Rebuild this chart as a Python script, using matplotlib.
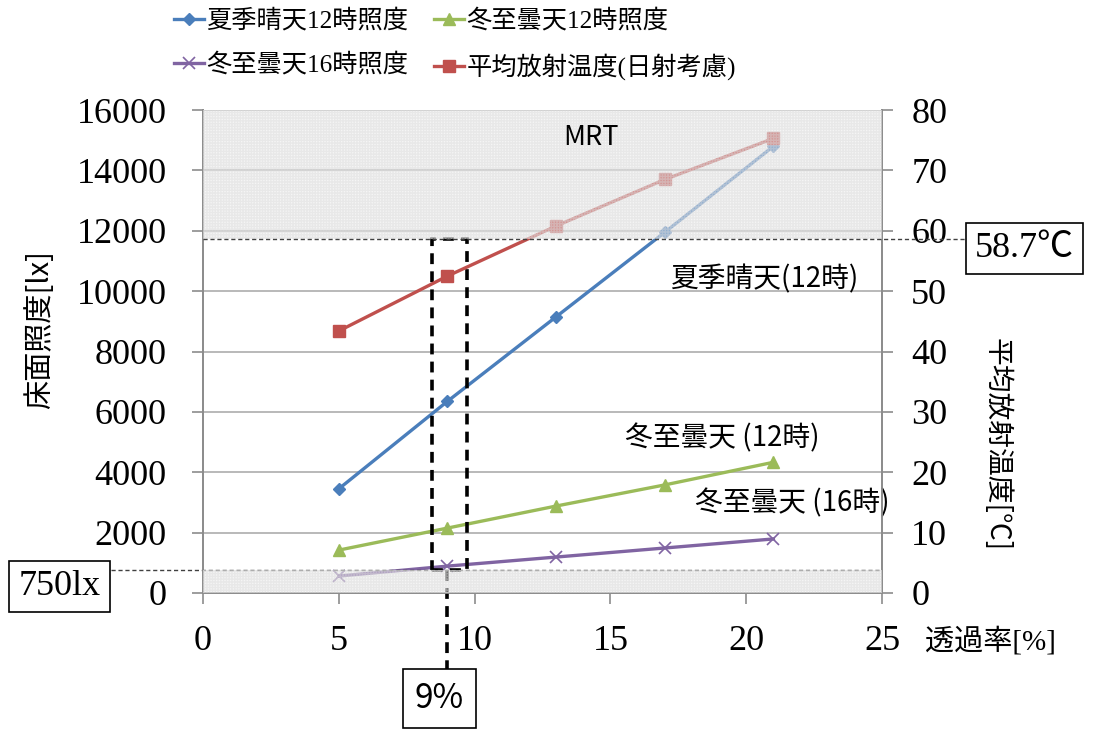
import matplotlib
matplotlib.use("Agg")
import matplotlib.pyplot as plt
from matplotlib.patches import Rectangle
from matplotlib.lines import Line2D

# Transmittance [%] and results
transmittance = [5, 9, 13, 17, 21]
summer_clear_12 = [3450, 6350, 9150, 11950, 14800]   # lx
winter_cloudy_12 = [1420, 2150, 2880, 3580, 4330]    # lx
winter_cloudy_16 = [560, 890, 1190, 1490, 1790]      # lx
mrt_sun = [43.4, 52.5, 60.8, 68.5, 75.3]             # degC

series_names = ["夏季晴天12時照度", "冬至曇天12時照度", "冬至曇天16時照度", "平均放射温度(日射考慮)"]
lux_limit = 750          # required illuminance [lx]
mrt_limit = 58.7         # MRT upper limit [degC]
chosen_rate = 9          # selected transmittance [%]

x_ticks = [0, 5, 10, 15, 20, 25]
lx_ticks = list(range(0, 16001, 2000))
t_ticks = list(range(0, 81, 10))

SERIF = ["Liberation Serif", "Noto Sans CJK JP"]
SANS = ["Noto Sans CJK JP", "DejaVu Sans"]
plt.rcParams["font.family"] = SERIF

C_BLUE = "#4A7EBB"
C_GREEN = "#9BBB59"
C_PURPLE = "#8064A2"
C_RED = "#C0504D"

fig = plt.figure(figsize=(10.93, 7.29), dpi=100)
ax = fig.add_axes([0.1857, 0.1866, 0.807 - 0.1857, 0.849 - 0.1866])
ax2 = ax.twinx()

ax.set_xlim(0, 25)
ax.set_ylim(0, 16000)
ax2.set_ylim(0, 80)
lx_per_deg = 16000 / 80

# gridlines
for v in lx_ticks[1:]:
    ax.axhline(v, color="#a6a6a6", lw=1.1, zorder=0)

lw = 2.4
ax.plot(transmittance, summer_clear_12, color=C_BLUE, lw=lw, marker="D", ms=6, zorder=3)
ax.plot(transmittance, winter_cloudy_12, color=C_GREEN, lw=lw, marker="^", ms=8, zorder=3)
ax.plot(transmittance, winter_cloudy_16, color=C_PURPLE, lw=lw, marker="x", ms=8, mew=1.2, zorder=3)

# dashed frame around the selected transmittance
ax.add_patch(Rectangle((8.45, lux_limit), 1.27, mrt_limit * lx_per_deg - lux_limit,
                       fill=False, ls=(0, (3, 2)), lw=2.6, ec="black", zorder=4))
ax.plot([chosen_rate, chosen_rate], [lux_limit, -2550], color="black", lw=2.6,
        ls=(0, (3, 2)), clip_on=False, zorder=4)

ax2.plot(transmittance, mrt_sun, color=C_RED, lw=lw, marker="s", ms=8, zorder=2)

# shaded zones: above the MRT limit and below the illuminance requirement
for y0, y1 in [(mrt_limit, 80), (0, lux_limit / lx_per_deg)]:
    ax2.add_patch(Rectangle((0, y0), 25, y1 - y0, facecolor=(0.92, 0.92, 0.92, 0.45),
                            lw=0, zorder=5))
    ax2.add_patch(Rectangle((0, y0), 25, y1 - y0, facecolor="none", hatch="++++++",
                            edgecolor=(0.85, 0.85, 0.85, 0.45), lw=0, zorder=5))

# threshold lines
ax2.plot([0, 28.3], [mrt_limit, mrt_limit], color="#404040", lw=1.0, ls=(0, (3, 2)),
         clip_on=False, zorder=6)
ax.plot([-3.4, 25], [lux_limit, lux_limit], color="#404040", lw=1.0, ls=(0, (3, 2)),
        clip_on=False, zorder=6)

# axes styling
for a in (ax, ax2):
    for s in a.spines.values():
        s.set_color("#8c8c8c")
        s.set_linewidth(1.3)
    a.spines["top"].set_visible(False)
ax.set_xticks(x_ticks)
ax.set_yticks(lx_ticks)
ax2.set_yticks(t_ticks)
ax.tick_params(axis="y", labelsize=26, color="#8c8c8c", length=8, width=1.2, pad=18)
ax.tick_params(axis="x", labelsize=26, color="#8c8c8c", length=8, width=1.2, pad=15)
ax2.tick_params(axis="y", labelsize=26, color="#8c8c8c", length=8, width=1.2, pad=13)

fig.text(0.037, 0.548, "床面照度[lx]", rotation=90, ha="center", va="center",
         fontsize=21, family=SANS)
fig.text(0.912, 0.39, "平均放射温度[℃]", rotation=-90, ha="center", va="center",
         fontsize=20, family=SANS)
fig.text(0.906, 0.121, "透過率[%]", ha="center", va="center", fontsize=21, family=SERIF)

# curve labels
ax2.text(14.3, 75.5, "MRT", fontsize=19.5, family=SANS, ha="center", va="center", zorder=7)
ax.text(20.7, 10400, "夏季晴天(12時)", fontsize=20, family=SANS, ha="center", va="center")
ax.text(19.1, 5120, "冬至曇天 (12時)", fontsize=20, family=SANS, ha="center", va="center")
ax.text(21.7, 2970, "冬至曇天 (16時)", fontsize=20, family=SANS, ha="center", va="center")

# value boxes
box = dict(boxstyle="square,pad=0.25", fc="white", ec="black", lw=1.2)
fig.text(0.0545, 0.195, "750lx", fontsize=26, ha="center", va="center", bbox=box)
fig.text(0.9375, 0.659, "58.7℃", fontsize=26, ha="center", va="center", bbox=box)
fig.text(0.402, 0.042, "9%", fontsize=24, family=SANS, ha="center", va="center",
         bbox=dict(boxstyle="square,pad=0.35", fc="white", ec="black", lw=1.2))

handles = [
    Line2D([], [], color=C_BLUE, lw=lw, marker="D", ms=6),
    Line2D([], [], color=C_GREEN, lw=lw, marker="^", ms=8),
    Line2D([], [], color=C_PURPLE, lw=lw, marker="x", ms=8, mew=1.2),
    Line2D([], [], color=C_RED, lw=lw, marker="s", ms=8),
]
order = [0, 2, 1, 3]
fig.legend([handles[i] for i in order], [series_names[i] for i in order],
           ncol=2, loc="upper left", bbox_to_anchor=(0.138, 1.019), frameon=False,
           handlelength=1.2, handletextpad=0.1, columnspacing=1.0,
           labelspacing=0.8, prop={"family": SERIF, "size": 18.2})

fig.savefig("out.png", dpi=100)
